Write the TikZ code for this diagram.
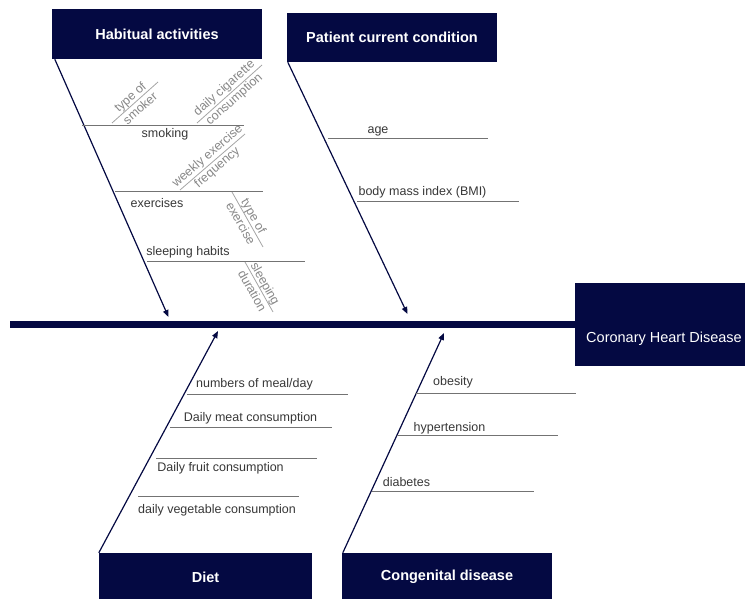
\documentclass[tikz,border=0pt]{standalone}
\usepackage{fontspec}
\setmainfont{Liberation Sans}
\usetikzlibrary{arrows.meta,calc}
\definecolor{navy}{RGB}{4,9,66}
\definecolor{lbl}{RGB}{55,55,55}
\definecolor{sub}{RGB}{135,135,135}
\definecolor{bline}{RGB}{115,115,115}
\definecolor{sline}{RGB}{165,165,165}
\begin{document}
\begin{tikzpicture}[x=1pt,y=-1pt,
  cat/.style={fill=navy, text=white, font=\bfseries\fontsize{14.5}{17}\selectfont, inner sep=0pt},
  bone/.style={navy, line width=1.2pt, -{Triangle[length=7pt,width=5.5pt]}},
  branch/.style={bline, line width=0.8pt},
  subline/.style={sline, line width=0.8pt},
  lab/.style={text=lbl, font=\fontsize{12.5}{14}\selectfont, inner sep=0pt},
  sublab/.style={text=sub, font=\fontsize{12.5}{15}\selectfont, inner sep=0pt, align=center},
]
\useasboundingbox (0,0) rectangle (745,599);

% category boxes
\node[cat, minimum width=210pt, minimum height=50pt] (hab) at (157,34) {Habitual activities};
\node[cat, minimum width=210pt, minimum height=49pt] (pat) at (392,37.5) {Patient current condition};
\node[cat, minimum width=213pt, minimum height=48pt] (diet) at (205.5,577) {Diet};
\node[cat, minimum width=210pt, minimum height=48pt] (cong) at (447,577) {Congenital disease};

% spine and head
\node[fill=navy, inner sep=0pt, minimum width=566pt, minimum height=7pt] (spine) at (293,324.5) {};
\node[fill=navy, inner sep=0pt, minimum width=170pt, minimum height=83pt] (chd) at (660,324.5) {};
\node[text=white, font=\fontsize{14.5}{17}\selectfont, inner sep=0pt] (chdl) at (664,339) {Coronary Heart Disease};

% arrow end points on the spine
\coordinate (habE) at (168.5,317);
\coordinate (patE) at (407.5,314);
\coordinate (dietE) at (218,331);
\coordinate (congE) at (444,333);

\draw[bone] ([xshift=3pt]hab.south west) -- (habE);
\draw[bone] ([xshift=1pt]pat.south west) -- (patE);
\draw[bone] (diet.north west) -- (dietE);
\draw[bone] ([xshift=1pt]cong.north west) -- (congE);

% Habitual activities
\draw[branch] (82,125) -- (244,125);
\node[lab] (smoking) at (165,134) {smoking};
\draw[subline] (112,123) -- (158,82) node[midway, sloped, sublab] (smoker) {type of\\smoker};
\draw[subline] (197,123) -- (262,65) node[midway, sloped, sublab] (cig) {daily cigarette\\consumption};

\draw[branch] (115,191) -- (263,191);
\node[lab] (exercises) at (157,203) {exercises};
\draw[subline] (180,190) -- (245,134) node[midway, sloped, sublab] (freq) {weekly exercise\\frequency};
\draw[subline] (232,192) -- (263,247) node[midway, sloped, sublab] (extype) {type of\\exercise};

\draw[branch] (147,261) -- (305,261);
\node[lab] (sleep) at (188,252) {sleeping habits};
\draw[subline] (245,262) -- (273,312) node[midway, sloped, sublab] (dur) {sleeping\\duration};

% Patient current condition
\draw[branch] (328,138) -- (488,138);
\node[lab] (age) at (378,131) {age};
\draw[branch] (357,201) -- (519,201);
\node[lab] (bmi) at (422.5,192.5) {body mass index (BMI)};

% Diet
\draw[branch] (187,394) -- (348,394);
\node[lab] (meal) at (254.5,384) {numbers of meal/day};
\draw[branch] (170,427) -- (332,427);
\node[lab] (meat) at (250.5,418.5) {Daily meat consumption};
\draw[branch] (156,458) -- (317,458);
\node[lab] (fruit) at (220.5,468) {Daily fruit consumption};
\draw[branch] (138,496) -- (299,496);
\node[lab] (veg) at (217,510.5) {daily vegetable consumption};

% Congenital disease
\draw[branch] (415,393) -- (576,393);
\node[lab] (obesity) at (453,382) {obesity};
\draw[branch] (397,435) -- (558,435);
\node[lab] (hyper) at (449.5,428.5) {hypertension};
\draw[branch] (372,491) -- (534,491);
\node[lab] (diab) at (406.5,482) {diabetes};
\end{tikzpicture}
\end{document}
